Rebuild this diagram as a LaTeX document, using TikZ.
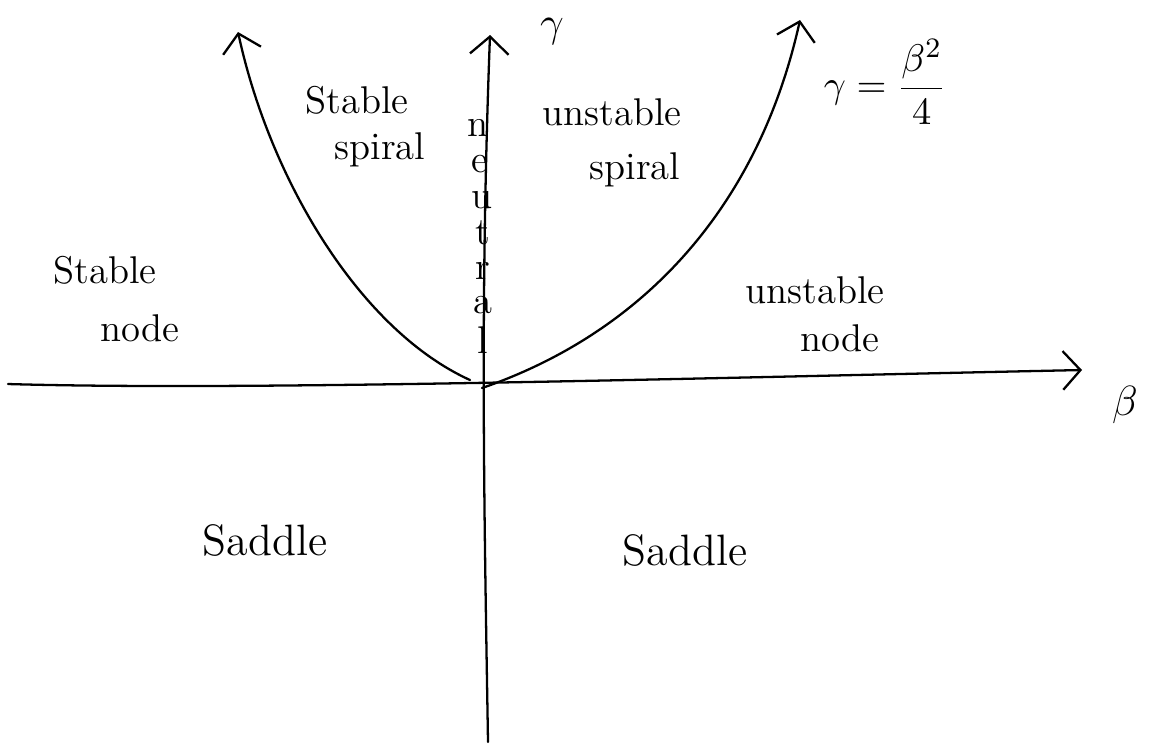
\documentclass[tikz,border=0pt]{standalone}
\usetikzlibrary{arrows.meta}
\begin{document}
\begin{tikzpicture}[x=0.01cm,y=-0.01cm,
  ink/.style={line width=0.65pt,line cap=round,line join=round},
  tip/.style={-{Straight Barb[length=5pt,width=11pt,line width=0.65pt]}},
  lbl/.style={font=\fontsize{11}{13}\selectfont,inner sep=1pt},
  big/.style={font=\fontsize{12.5}{15}\selectfont,inner sep=1pt},
  letter/.style={font=\fontsize{11}{13}\selectfont,inner sep=0pt}]
\useasboundingbox (0,0) rectangle (1168,744);
% axis coordinates
\coordinate (bl) at (8,384);
\coordinate (br) at (1082,370);
\coordinate (vb) at (488,742);
\coordinate (vt) at (490,35);
\coordinate (o) at (482,388);
\coordinate (rt) at (800,20);
\coordinate (lt) at (238,32);
\coordinate (lo) at (470,380);
% axes
\draw[ink,tip] (bl) .. controls (250,391) and (700,378) .. (br);
\draw[ink,tip] (vb) .. controls (484,500) and (480,300) .. (vt);
% parabolas
\draw[ink,tip] (o) .. controls (650,330) and (760,200) .. (rt);
\draw[ink,tip] (lo) .. controls (360,330) and (270,180) .. (lt);
% labels
\node[big] (beta) at (1125,405) {$\beta$};
\node[big] (gam) at (552,32) {$\gamma$};
\node[lbl] (eq) at (885,82) {$\gamma=\displaystyle\frac{\beta^{2}}{4}$};
\node[lbl] (ss1) at (357,100) {Stable};
\node[lbl] (ss2) at (380,150) {spiral};
\node[lbl] (us1) at (612,112) {unstable};
\node[lbl] (us2) at (635,170) {spiral};
\node[lbl] (sn1) at (105,270) {Stable};
\node[lbl] (sn2) at (140,328) {node};
\node[lbl] (un1) at (815,290) {unstable};
\node[lbl] (un2) at (840,338) {node};
\node[big] (sd1) at (265,540) {Saddle};
\node[big] (sd2) at (685,550) {Saddle};
% neutral
\node[letter] (n1) at (478,128) {n};
\node[letter] (n2) at (480,164) {e};
\node[letter] (n3) at (482,200) {u};
\node[letter] (n4) at (483,233) {t};
\node[letter] (n5) at (483,271) {r};
\node[letter] (n6) at (483,305) {a};
\node[letter] (n7) at (483,340) {l};
\end{tikzpicture}
\end{document}
